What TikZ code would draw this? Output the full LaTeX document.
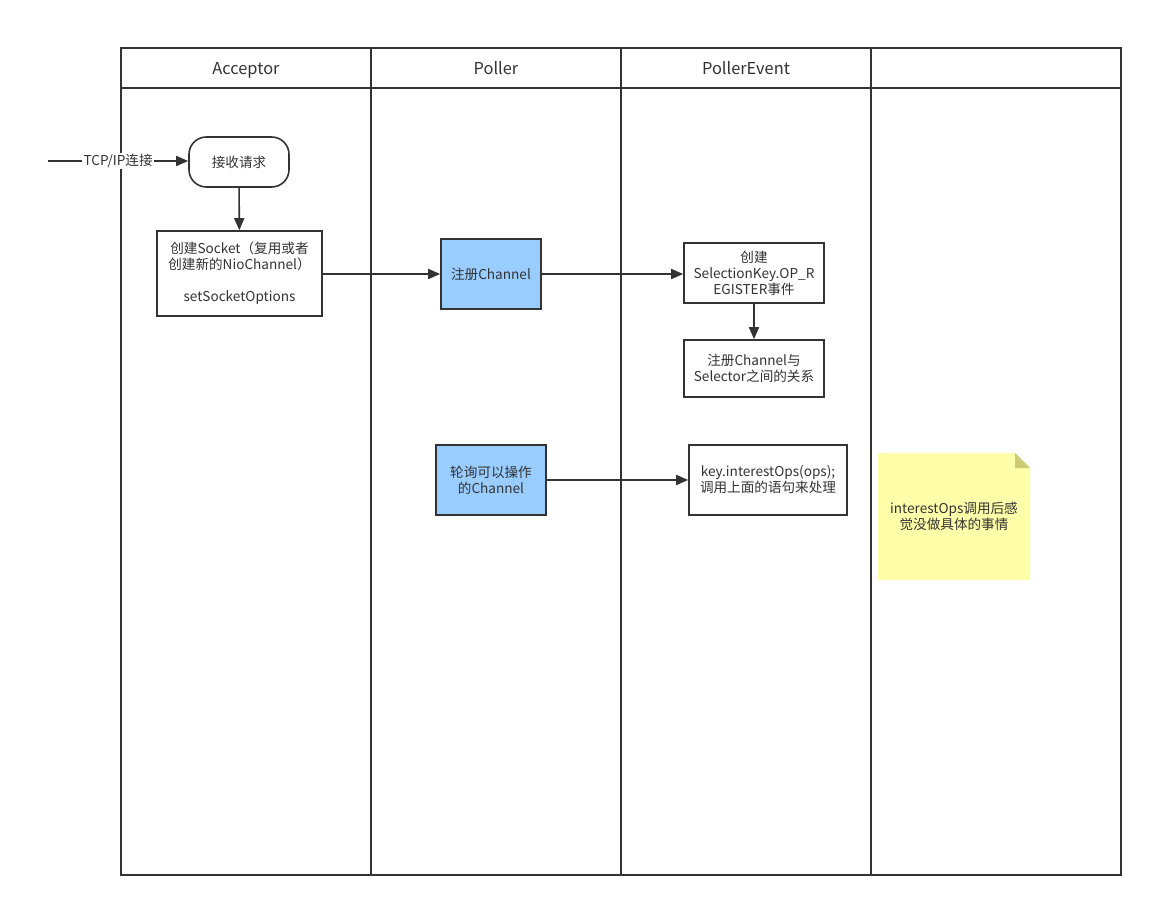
\documentclass[tikz,border=0pt]{standalone}
\usepackage{fontspec}
\setmainfont{Noto Sans CJK SC}
\usetikzlibrary{arrows.meta}
\definecolor{ink}{HTML}{333333}
\definecolor{procblue}{HTML}{99CCFF}
\definecolor{notefill}{HTML}{FFFFAA}
\definecolor{notefold}{HTML}{CCCC77}
\begin{document}
\begin{tikzpicture}[x=0.75pt,y=-0.75pt,
  every node/.style={font=\fontsize{10.2}{12}\selectfont, text=ink, align=center},
  lane/.style={draw=ink, line width=1.5pt},
  header/.style={font=\fontsize{12.3}{14}\selectfont, text=ink, anchor=base},
  proc/.style={draw=ink, line width=1.2pt, fill=white, inner sep=0pt},
  active/.style={proc, fill=procblue},
  flow/.style={draw=ink, line width=1.2pt, -{Triangle[length=9pt,width=7.5pt]}}]
\useasboundingbox (0,0) rectangle (1153,907);

% swimlanes
\draw[lane] (121,48) rectangle (1121,875);
\draw[lane] (121,88) -- (1121,88);
\foreach \x in {371,621,871} \draw[lane] (\x,48) -- (\x,875);
\node[header] (h1) at (246,74) {Acceptor};
\node[header] (h2) at (496,74) {Poller};
\node[header] (h3) at (746,74) {PollerEvent};

% Acceptor lane
\node[proc, rounded corners=13pt, minimum width=75pt, minimum height=37.5pt] (recv) at (239,162) {接收请求};
\node[proc, minimum width=123.75pt, minimum height=63.75pt] (sock) at (239.5,273.5)
  {创建Socket（复用或者\\创建新的NioChannel）\\[12pt]setSocketOptions};
\coordinate (src) at (48,161);
\draw[flow] (src) -- node[fill=white, inner sep=1pt, pos=0.5] (tcp) {TCP/IP连接} (recv.west |- src);
\draw[flow] (recv) -- (sock);

% Poller lane
\node[active, minimum width=75pt, minimum height=52.5pt] (reg) at (491,274) {注册Channel};
\node[active, minimum width=82.5pt, minimum height=52.5pt] (poll) at (491,480) {轮询可以操作\\的Channel};

% PollerEvent lane
\node[proc, minimum width=105pt, minimum height=45pt] (key) at (754,273)
  {创建\\SelectionKey.OP\_R\\EGISTER事件};
\node[proc, minimum width=105pt, minimum height=42.75pt] (bind) at (754,368.5)
  {注册Channel与\\Selector之间的关系};
\node[proc, minimum width=118.5pt, minimum height=52.5pt] (ops) at (768,480)
  {key.interestOps(ops);\\调用上面的语句来处理};

\draw[flow] (sock.east |- reg) -- (reg.west);
\draw[flow] (reg.east) -- (key.west |- reg);
\draw[flow] (key) -- (bind);
\draw[flow] (poll) -- (ops);

% sticky note with folded corner
\fill[notefill] (878,453) -- (1015,453) -- (1030,468) -- (1030,580) -- (878,580) -- cycle;
\fill[notefold] (1015,453) -- (1030,468) -- (1015,468) -- cycle;
\node (note) at (954,516) {interestOps调用后感\\觉没做具体的事情};
\end{tikzpicture}
\end{document}
